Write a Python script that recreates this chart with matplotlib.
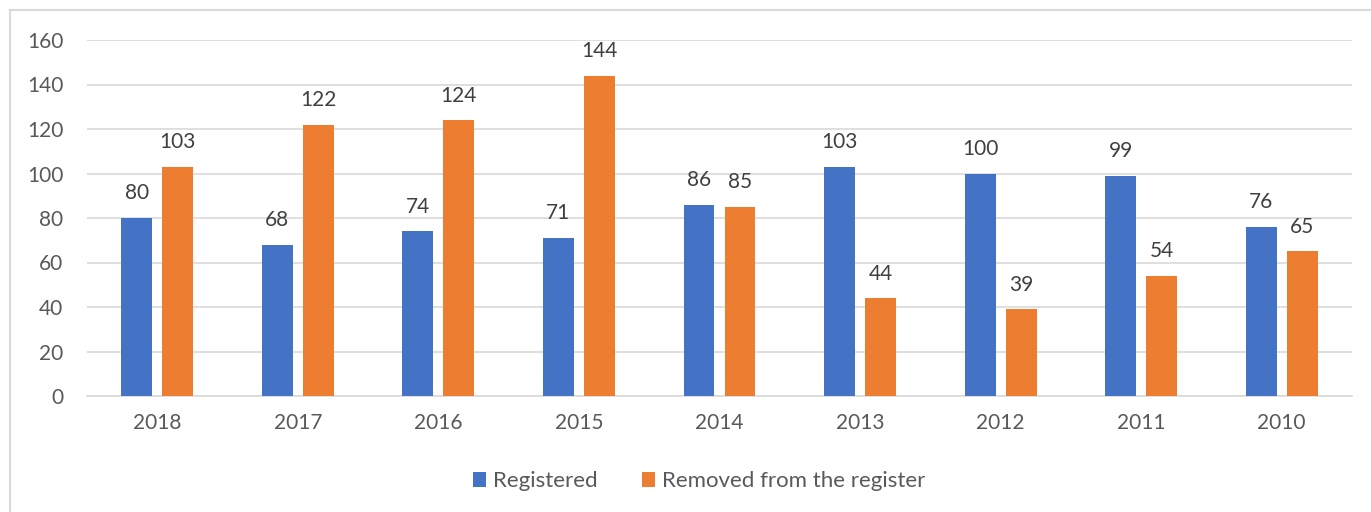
import matplotlib.pyplot as plt
import numpy as np
from matplotlib.lines import Line2D

years = ["2018", "2017", "2016", "2015", "2014", "2013", "2012", "2011", "2010"]
registered = [80, 68, 74, 71, 86, 103, 100, 99, 76]
removed = [103, 122, 124, 144, 85, 44, 39, 54, 65]

BLUE = "#4472C4"
ORANGE = "#ED7D31"
GRAY = "#595959"

plt.rcParams["font.family"] = ["Lato", "DejaVu Sans"]

W, H = 1371, 512
fig = plt.figure(figsize=(W / 100, H / 100), dpi=100)
ax = fig.add_axes([87 / W, 1 - 396 / H, (1352 - 87) / W, (396 - 40) / H])

x = np.arange(len(years))
width = 0.22
off = 0.146

b1 = ax.bar(x - off, registered, width, color=BLUE, label="Registered", zorder=3)
b2 = ax.bar(x + off, removed, width, color=ORANGE, label="Removed from the register", zorder=3)

for bars in (b1, b2):
    for rect in bars:
        h = rect.get_height()
        ax.annotate(f"{h:g}", (rect.get_x() + rect.get_width() / 2, h),
                    xytext=(0, 10.5), textcoords="offset points",
                    ha="center", va="bottom", fontsize=15, color="#404040")

ax.set_xlim(-0.5, len(years) - 0.5)
ax.set_ylim(0, 160)
ax.set_yticks(range(0, 161, 20))
ax.set_xticks(x)
ax.set_xticklabels(years)
ax.tick_params(axis="both", length=0, labelsize=15, colors=GRAY)
ax.tick_params(axis="x", pad=12)
ax.tick_params(axis="y", pad=17)
ax.grid(axis="y", color="#D9D9D9", linewidth=1.2, zorder=0)
for side in ("top", "right", "left"):
    ax.spines[side].set_visible(False)
ax.spines["bottom"].set_color("#D9D9D9")
ax.spines["bottom"].set_linewidth(1.2)

fig.legend(handles=[b1, b2], loc="center", bbox_to_anchor=(0.51, 0.06),
           ncol=2, frameon=False, fontsize=16, labelcolor=GRAY,
           handlelength=0.6, handleheight=0.6, columnspacing=2.0, handletextpad=0.3)

# chart frame (only top and left edges fall inside the image)
fig.add_artist(Line2D([10 / W, 1], [1 - 10 / H, 1 - 10 / H], transform=fig.transFigure,
                      color="#D9D9D9", linewidth=1.5))
fig.add_artist(Line2D([10 / W, 10 / W], [0, 1 - 10 / H], transform=fig.transFigure,
                      color="#D9D9D9", linewidth=1.5))

fig.savefig("out.png", dpi=100)
